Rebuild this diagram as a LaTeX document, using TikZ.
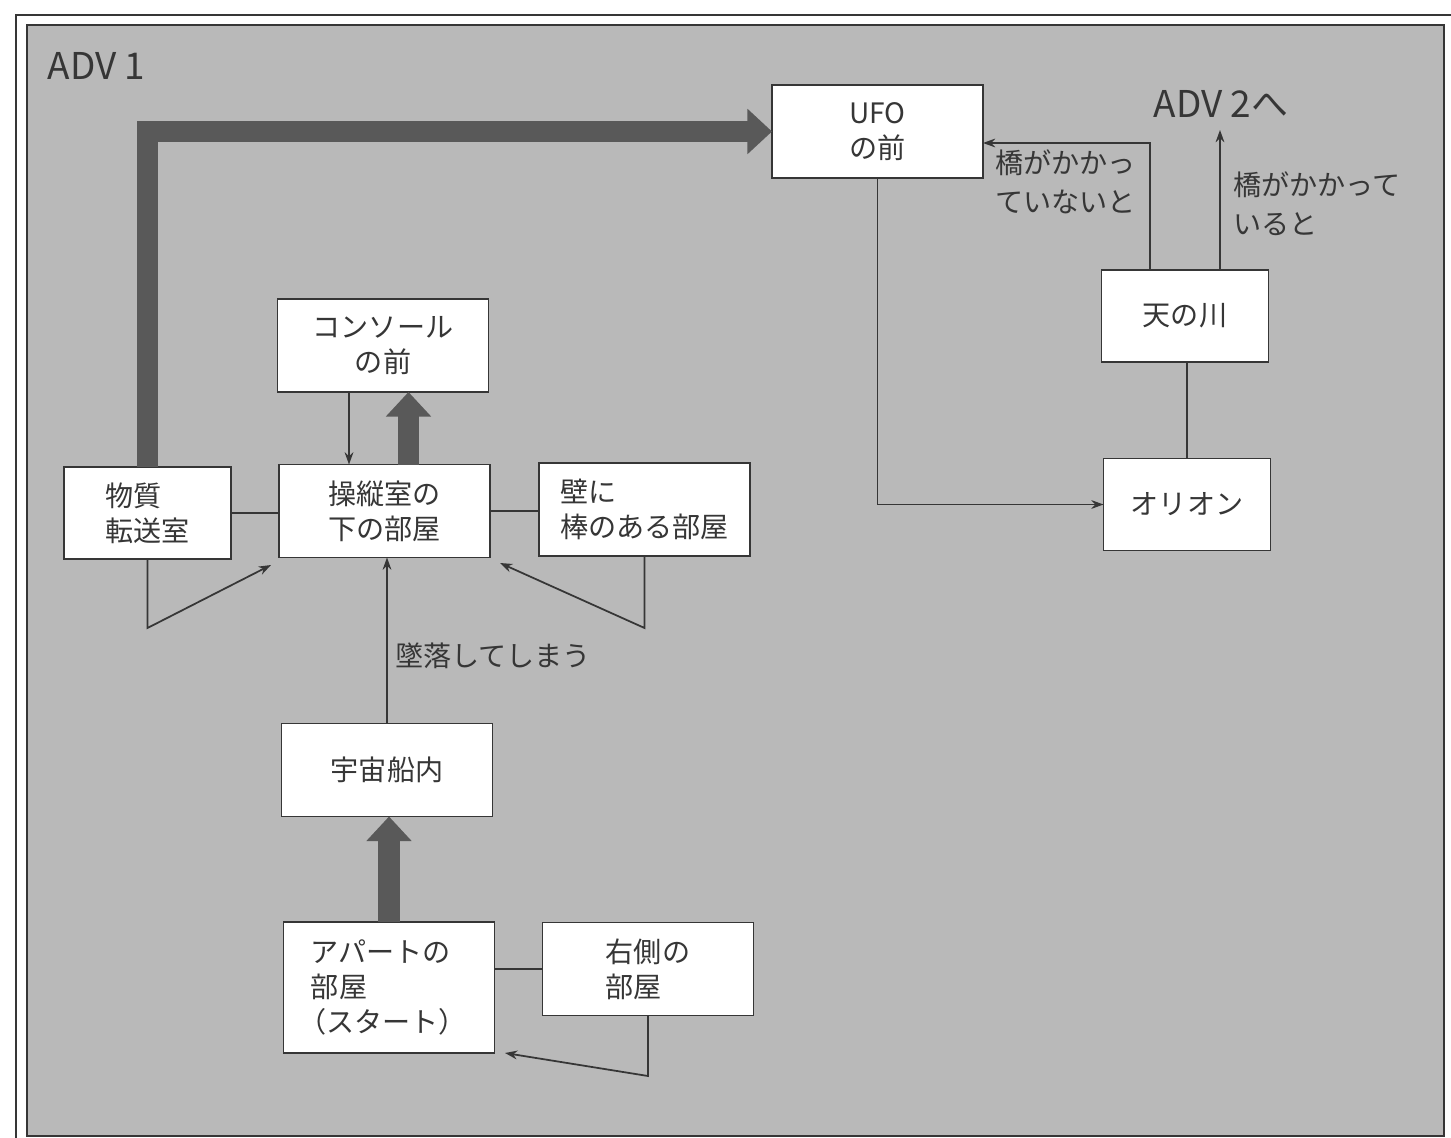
\documentclass[tikz,border=0pt]{standalone}
\usepackage{fontspec}
\setmainfont{Noto Sans CJK JP}
\usepackage{tikz}
\usetikzlibrary{arrows.meta}

\definecolor{panel}{HTML}{B9B9B9}
\definecolor{ink}{HTML}{363636}
\definecolor{heavy}{HTML}{595959}

\begin{document}
\begin{tikzpicture}[x=0.02cm, y=-0.02cm,
        every node/.style={text=ink, inner sep=0pt, outer sep=0pt},
        room/.style={rectangle, draw=ink, fill=white, line width=0.9pt,
                     minimum width=4.22cm, minimum height=1.86cm,
                     align=left, font=\fontsize{16}{20}\selectfont},
        smallroom/.style={room, minimum width=3.34cm, minimum height=1.84cm},
        note/.style={align=left, font=\fontsize{16}{22}\selectfont},
        flow/.style={draw=ink, line width=1pt, -{Stealth[length=7pt, width=5pt]}},
        link/.style={draw=ink, line width=1pt},
        bigarrow/.style={draw=heavy, line width=12pt, line join=miter,
                         -{Triangle[length=14pt, width=25pt]}}]
      \useasboundingbox (0,0) rectangle (1451,1138);
      \fill[white] (0,0) rectangle (1451,1138);
      \draw[ink, line width=0.8pt] (16,15) rectangle (1460,1150);
      \filldraw[fill=panel, draw=ink, line width=1pt] (27,25) rectangle (1444,1136);

      \node[font=\fontsize{21}{24}\selectfont, anchor=west] (adv1) at (48,66) {ADV\ 1};
      \node[font=\fontsize{21}{24}\selectfont] (adv2) at (1221,104) {ADV 2へ};

      \node[room] (ufo)      at (877.5,131.5) {UFO\hspace{0.6em}\\の前};
      \node[smallroom] (milky)   at (1185,316)   {天の川};
      \node[smallroom] (orion)   at (1187,504.5) {オリオン};
      \node[room, align=center] (console) at (383,345.5) {コンソール\\の前};
      \node[smallroom] (transfer) at (147.5,513)  {物質\\転送室};
      \node[room, align=center] (lower)   at (384.5,511) {操縦室の\\下の部屋};
      \node[room] (wall)     at (644.5,509.5) {壁に\\棒のある部屋};
      \node[room] (ship)     at (387,770)     {宇宙船内};
      \node[room, minimum height=2.62cm] (apart) at (389,987.5) {アパートの\\部屋\\\hspace{-0.45em}（スタート）};
      \node[room] (right)    at (648,969)     {右側の\\部屋};

      \node[note, anchor=west] (fall) at (395,656) {墜落してしまう};
      \node[note, anchor=north west] (nobridge) at (995,150) {橋がかかっ\\ていないと};
      \node[note, anchor=north west] (bridge) at (1233,172) {橋がかかって\\いると};

      \coordinate (tbend) at (149,628);
      \coordinate (tend)  at (271,565);
      \coordinate (wbend) at (645,628);
      \coordinate (wend)  at (500,563);
      \coordinate (rbend) at (650,1076);
      \coordinate (rend)  at (505,1053);

      \draw[bigarrow] (transfer.north) |- (ufo.west);
      \draw[bigarrow] ([xshift=0.48cm]lower.north) -- ([xshift=0.48cm]lower.north |- console.south);
      \draw[bigarrow] (apart.north) -- (apart.north |- ship.south);

      \draw[flow] ([xshift=-0.68cm]console.south) -- ([xshift=-0.68cm]console.south |- lower.north);
      \draw[link] (transfer.east) -- (transfer.east -| lower.west);
      \draw[link] (lower.east) -- (lower.east -| wall.west);
      \draw[flow] (transfer.south) -- (transfer.south |- tbend) -- (tend);
      \draw[flow] (wall.south) -- (wall.south |- wbend) -- (wend);
      \draw[flow] (ship.north) -- (ship.north |- lower.south);
      \draw[link] (apart.east |- right.west) -- (right.west);
      \draw[flow] (right.south) -- (right.south |- rbend) -- (rend);

      \draw[flow] (ufo.south) |- (orion.west);
      \draw[link] ([xshift=0.04cm]milky.south) -- ([xshift=0.04cm]milky.south |- orion.north);
      \draw[flow] ([xshift=-0.7cm]milky.north) |- ([yshift=-0.23cm]ufo.east);
      \draw[flow] ([xshift=0.7cm]milky.north) -- ([xshift=0.7cm]milky.north |- 0,130);
    \end{tikzpicture}
\end{document}
